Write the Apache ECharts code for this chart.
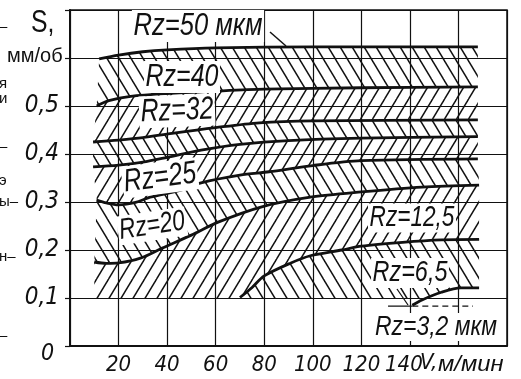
<!DOCTYPE html>
<html>
<head>
<meta charset="utf-8">
<script src="https://cdn.jsdelivr.net/npm/echarts@6/dist/echarts.min.js"></script>
<style>
  html, body { margin: 0; background: #fff; }
  #chart { width: 521px; height: 379px; }
</style>
</head>
<body>
<div id="chart"></div>
<script>
// boundary curves between roughness zones, [V m/min, S mm/rev]
const rz50 = [[12, 0.598], [20, 0.606], [30, 0.613], [40, 0.617], [60, 0.621], [100, 0.623], [168, 0.623]];
const rz40 = [[11, 0.500], [16, 0.511], [25, 0.520], [40, 0.526], [60, 0.531], [80, 0.535], [120, 0.538], [168, 0.540]];
const rz32 = [[9.5, 0.425], [20, 0.429], [30, 0.434], [42, 0.443], [60, 0.455], [78, 0.465], [100, 0.469], [168, 0.471]];
const rz25 = [[9.5, 0.373], [20, 0.377], [30, 0.383], [40, 0.393], [54, 0.408], [70, 0.420], [90, 0.428], [120, 0.433], [168, 0.436]];
const rz20 = [[11, 0.304], [15, 0.298], [20, 0.294], [27, 0.299], [33, 0.310], [46, 0.325], [54, 0.340], [70, 0.356], [82, 0.363], [100, 0.376], [120, 0.386], [168, 0.390]];
const rz125 = [[10, 0.175], [15, 0.172], [20, 0.173], [29, 0.183], [38, 0.204], [50, 0.231], [61, 0.258], [79, 0.290], [99, 0.310], [120, 0.321], [145, 0.331], [168.5, 0.335]];
const rz65 = [[70, 0.101], [75, 0.122], [80, 0.146], [91, 0.173], [99, 0.188], [112, 0.200], [120, 0.208], [137, 0.216], [153, 0.221], [168.5, 0.222]];
const rz32b = [[141, 0.085], [145, 0.096], [153, 0.112], [161, 0.121], [168.5, 0.121]];
const rz32Solid = [[131, 0.083], [141, 0.083]];
const rz32Dash = [[141, 0.083], [166, 0.083]];
const floor01 = [[10, 0.1], [70, 0.1]];
const floor65 = [[70, 0.1], [147, 0.1], [153, 0.112], [161, 0.121], [168.5, 0.121]];

const xTickLabels = ['', '20', '40', '60', '80', '100', '120', '{l|140}', '', ''];
const yTickLabels = ['', '0,1', '0,2', '0,3', '0,4', '0,5', '', ''];
const zoneTexts = ['Rz=50 мкм', 'Rz=40', 'Rz=32', 'Rz=25', 'Rz=20', 'Rz=12,5', 'Rz=6,5', 'Rz=3,2 мкм'];

const INK = '#111';
const COND = '"DejaVu Sans Condensed", "Liberation Sans", sans-serif';
const SANS = '"Liberation Sans", sans-serif';

// diagonal hatch tile
function hatch(back) {
  const w = 12, h = 20;
  const c = document.createElement('canvas');
  c.width = w; c.height = h;
  const g = c.getContext('2d');
  g.strokeStyle = INK;
  g.lineWidth = 1.5;
  for (const dx of [-w, 0, w]) {
    g.beginPath();
    if (back) { g.moveTo(dx - 2, -3.3); g.lineTo(dx + w + 2, h + 3.3); }
    else { g.moveTo(dx + w + 2, -3.3); g.lineTo(dx - 2, h + 3.3); }
    g.stroke();
  }
  return c;
}
const BACK = { image: hatch(true), repeat: 'repeat' };
const FWD = { image: hatch(false), repeat: 'repeat' };

function zone(upper, lower, fill) {
  const pts = upper.concat(lower.slice().reverse());
  return {
    type: 'custom',
    silent: true,
    z: 1,
    data: [[0, 0]],
    renderItem: (params, api) => ({
      type: 'polygon',
      shape: { points: pts.map(p => api.coord(p)) },
      style: { fill: fill, stroke: null }
    })
  };
}

function curve(data, extra) {
  return Object.assign({
    type: 'line',
    data: data,
    symbol: 'none',
    smooth: 0.3,
    silent: true,
    z: 3,
    lineStyle: { color: INK, width: 2.8 }
  }, extra || {});
}

function txt(i, x, y, size, rot, sx) {
  return {
    type: 'text', x: x, y: y, rotation: rot || 0, scaleX: sx || 0.78, z: 10,
    style: {
      text: zoneTexts[i], font: 'italic ' + size + 'px ' + SANS, fill: INK,
      align: 'center', verticalAlign: 'middle', backgroundColor: '#fff', padding: [0, 2]
    }
  };
}

function frag(t, y) {
  return { type: 'text', x: -1, y: y, z: 10, style: { text: t, font: '15px ' + SANS, fill: INK, verticalAlign: 'middle' } };
}

const chart = echarts.init(document.getElementById('chart'));

chart.setOption({
  animation: false,
  backgroundColor: '#fff',
  grid: { left: 70, right: 14, top: 10, bottom: 33, show: true, borderColor: INK, borderWidth: 1.5 },
  xAxis: {
    type: 'value', min: 0, max: 180, interval: 20,
    axisLine: { onZero: false, lineStyle: { color: INK, width: 2 } },
    axisTick: { show: false },
    splitLine: { show: true, lineStyle: { color: INK, width: 1.2 } },
    axisLabel: {
      margin: 8, color: INK, fontFamily: COND, fontStyle: 'italic', fontSize: 22,
      formatter: v => xTickLabels[Math.round(v / 20)],
      rich: { l: { fontFamily: COND, fontStyle: 'italic', fontSize: 22, color: INK, padding: [0, 12, 0, 0] } }
    }
  },
  yAxis: {
    type: 'value', min: 0, max: 0.7, interval: 0.1,
    axisLine: { lineStyle: { color: INK, width: 2 } },
    axisTick: { show: true, length: 5, lineStyle: { color: INK, width: 1.2 } },
    splitLine: { show: true, lineStyle: { color: INK, width: 1.2 } },
    axisLabel: {
      margin: 11, color: INK, fontFamily: COND, fontStyle: 'italic', fontSize: 24,
      formatter: v => yTickLabels[Math.round(v * 10)]
    }
  },
  graphic: [
    { type: 'text', x: 31, y: 23, scaleX: 0.8, z: 10, style: { text: 'S,', font: '31px ' + SANS, fill: INK, verticalAlign: 'middle' } },
    { type: 'text', x: 7, y: 56, z: 10, style: { text: 'мм/об', font: '20px ' + SANS, fill: INK, verticalAlign: 'middle' } },
    { type: 'text', x: 41, y: 354, z: 10, style: { text: '0', font: 'italic 23px ' + COND, fill: INK, verticalAlign: 'middle' } },
    { type: 'text', x: 420, y: 363, z: 10, style: { text: 'V,', font: 'italic 22px ' + COND, fill: INK, verticalAlign: 'middle' } },
    { type: 'text', x: 438, y: 365, scaleX: 1.08, z: 10, style: { text: 'м/мин', font: 'italic 22px ' + SANS, fill: INK, verticalAlign: 'middle' } },
    txt(0, 198, 26, 32, 0, 0.8),
    txt(1, 182, 77, 32),
    txt(2, 177, 111, 32, 0.04),
    txt(3, 160, 178, 32, 0.13),
    txt(4, 152, 226, 29, 0.15),
    txt(5, 412, 218, 29),
    txt(6, 410, 273, 30),
    txt(7, 436, 327, 28, 0, 0.82),
    { type: 'line', z: 9, shape: { x1: 270, y1: 32, x2: 286, y2: 46 }, style: { stroke: INK, lineWidth: 1.5 } },
    { type: 'line', z: 9, shape: { x1: 397, y1: 289, x2: 408, y2: 305 }, style: { stroke: INK, lineWidth: 1.3 } },
    frag('–', 27), frag('я', 84), frag('и', 99), frag('–', 147), frag('э', 181),
    frag('ы–', 202), frag('н–', 257), frag('–', 336)
  ],
  series: [
    zone(rz50, rz40, BACK),
    zone(rz40, rz32, FWD),
    zone(rz32, rz25, BACK),
    zone(rz25, rz20, FWD),
    zone(rz20, rz125, BACK),
    zone(rz125, floor01.concat(rz65), FWD),
    zone(rz65, floor65, BACK),
    curve(rz50), curve(rz40), curve(rz32), curve(rz25),
    curve(rz20), curve(rz125), curve(rz65), curve(rz32b),
    curve(rz32Solid, { smooth: false, lineStyle: { color: INK, width: 1.3 } }),
    curve(rz32Dash, { smooth: false, lineStyle: { color: INK, width: 1.3, type: [6, 4] } })
  ]
});
</script>
</body>
</html>
